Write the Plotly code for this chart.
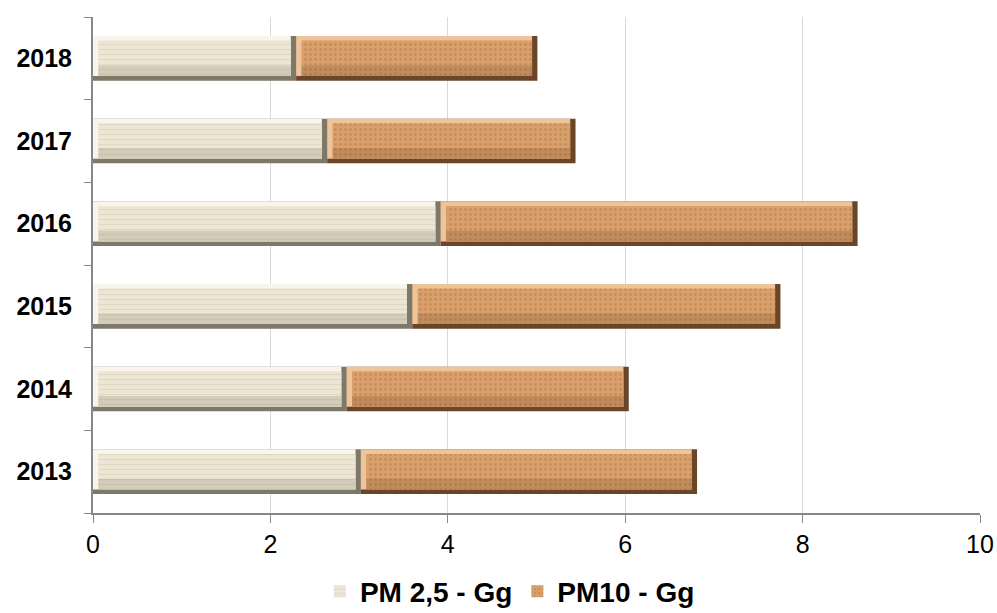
import plotly.graph_objects as go

# Annual particulate emissions (Gg)
years = ["2013", "2014", "2015", "2016", "2017", "2018"]
pm25 = [3.02, 2.86, 3.60, 3.92, 2.64, 2.29]
pm10 = [3.79, 3.18, 4.15, 4.70, 2.80, 2.72]
x_ticks = [0, 2, 4, 6, 8, 10]

BAR_W = 0.54      # full bar thickness (category units)
BEVEL_Y = 0.055   # bevel thickness across the bar
BEVEL_X = 0.06    # bevel thickness along the value axis

fig = go.Figure()


def bevel_bar(name, values, bases, edge, light, shade, face, pat_fg, pat_shape):
    # dark outer edge (bottom / right side of the bevel)
    fig.add_trace(go.Bar(
        y=years, x=values, base=bases, orientation="h",
        width=BAR_W, offset=-BAR_W / 2,
        marker=dict(color=edge, line=dict(width=0)),
        showlegend=False, hoverinfo="skip",
    ))
    # light upper/left bevel
    fig.add_trace(go.Bar(
        y=years, x=[v - BEVEL_X for v in values], base=bases, orientation="h",
        width=BAR_W - BEVEL_Y, offset=-BAR_W / 2 + BEVEL_Y,
        marker=dict(color=light, line=dict(width=0)),
        showlegend=False, hoverinfo="skip",
    ))
    # textured face
    face_w = BAR_W - 2 * BEVEL_Y
    fig.add_trace(go.Bar(
        y=years, x=[v - 2 * BEVEL_X for v in values],
        base=[b + BEVEL_X for b in bases], orientation="h",
        width=face_w, offset=-BAR_W / 2 + BEVEL_Y,
        marker=dict(
            color=face, line=dict(width=0),
            pattern=dict(shape=pat_shape, fgcolor=pat_fg, size=5, solidity=0.25),
        ),
        name="<b>" + name + "</b>", customdata=values,
        hovertemplate="%{y}: %{customdata}<extra>" + name + "</extra>",
    ))
    # soft shadow on the lower part of the face
    fig.add_trace(go.Bar(
        y=years, x=[v - 2 * BEVEL_X for v in values],
        base=[b + BEVEL_X for b in bases], orientation="h",
        width=face_w * 0.3, offset=-BAR_W / 2 + BEVEL_Y,
        marker=dict(color=shade, line=dict(width=0)),
        showlegend=False, hoverinfo="skip",
    ))


bevel_bar("PM 2,5 - Gg", pm25, [0] * len(pm25),
          edge="#7d7867", light="#f8f5ec", shade="rgba(120,112,90,0.22)",
          face="#ede6d4", pat_fg="#d3cab3", pat_shape="-")
bevel_bar("PM10 - Gg", pm10, pm25,
          edge="#6a4527", light="#eec49a", shade="rgba(110,70,35,0.22)",
          face="#d9a06c", pat_fg="#b27a4a", pat_shape=".")

fig.update_layout(
    barmode="overlay",
    width=997, height=613,
    margin=dict(l=93, r=17, t=17, b=100, autoexpand=False),
    paper_bgcolor="white", plot_bgcolor="white",
    font=dict(family="Arial, Liberation Sans, sans-serif", color="black"),
    xaxis=dict(
        range=[0, 10], tickvals=x_ticks, ticktext=[str(t) for t in x_ticks],
        showgrid=True, gridcolor="#d9d9d9", gridwidth=1,
        showline=True, linecolor="#878787", linewidth=2,
        ticks="outside", ticklen=8, tickcolor="#878787", tickwidth=1,
        tickfont=dict(size=25), zeroline=False, automargin=False,
    ),
    yaxis=dict(
        type="category", categoryorder="array", categoryarray=years,
        range=[-0.5, len(years) - 0.5],
        showgrid=False,
        showline=True, linecolor="#878787", linewidth=2,
        ticks="outside", tickson="boundaries", ticklen=7,
        tickcolor="#878787", tickwidth=1,
        tickfont=dict(size=25),
        tickprefix="<b>", ticksuffix="</b>",
        ticklabelstandoff=14, automargin=False,
    ),
    legend=dict(
        orientation="h", x=0.47, xanchor="center",
        yref="container", y=0.035, yanchor="middle",
        font=dict(size=28, family="Arial, Liberation Sans, sans-serif"),
        traceorder="normal", itemwidth=30,
    ),
)

fig.write_html("out.html")
